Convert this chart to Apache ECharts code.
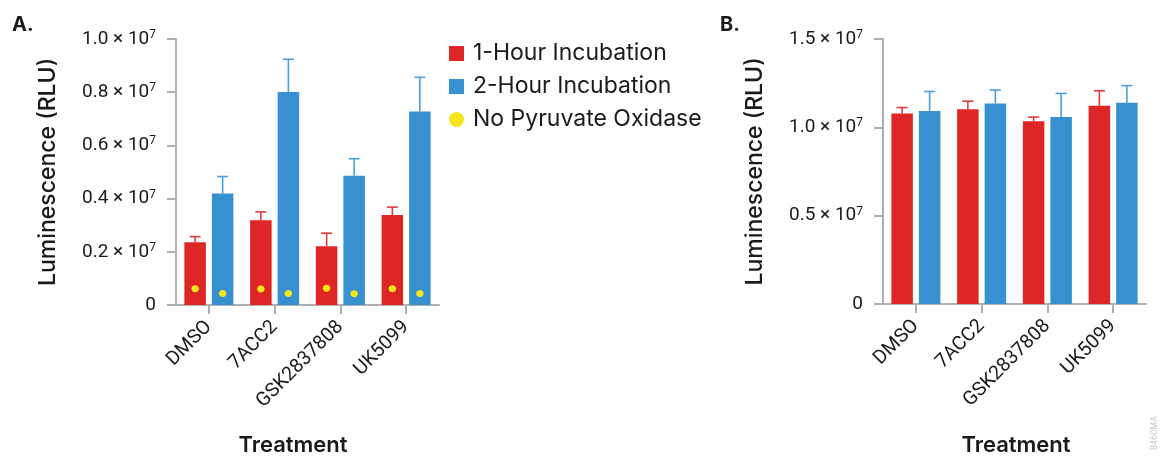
<!DOCTYPE html>
<html>
<head>
<meta charset="utf-8">
<script src="https://cdn.jsdelivr.net/npm/echarts@6/dist/echarts.min.js"></script>
<style>
html,body{margin:0;padding:0;background:#fff;}
#chart{width:1162px;height:456px;}
</style>
</head>
<body>
<div id="chart"></div>
<script>
// ---- Data ----
const categories = ['DMSO', '7ACC2', 'GSK2837808', 'UK5099'];
const seriesNames = ['1-Hour Incubation', '2-Hour Incubation', 'No Pyruvate Oxidase'];
// Panel A
const a1h = [2.36e6, 3.19e6, 2.21e6, 3.38e6];
const a1hErr = [0.21e6, 0.31e6, 0.49e6, 0.30e6];
const a2h = [4.19e6, 8.01e6, 4.86e6, 7.27e6];
const a2hErr = [0.64e6, 1.23e6, 0.64e6, 1.29e6];
const aNoPox1h = [0.61e6, 0.60e6, 0.63e6, 0.61e6];
const aNoPox2h = [0.43e6, 0.43e6, 0.42e6, 0.43e6];
// Panel B
const b1h = [1.078e7, 1.103e7, 1.035e7, 1.122e7];
const b1hErr = [0.034e7, 0.045e7, 0.023e7, 0.085e7];
const b2h = [1.093e7, 1.135e7, 1.059e7, 1.139e7];
const b2hErr = [0.110e7, 0.076e7, 0.133e7, 0.097e7];
// Axis ticks
const aTicks = { min: 0, max: 1.0e7, interval: 0.2e7 };
const bTicks = { min: 0, max: 1.5e7, interval: 0.5e7 };

// ---- Styles ----
const RED = '#DF2627';
const BLUE = '#3790D0';
const RED_ERR = '#E03A3B';
const BLUE_ERR = '#4AA0DE';
const YELLOW = '#F4E61A';
const AXIS = '#B0B0B0';
const TXT = '#1a1a1a';
const FONT = 'Roboto';
const TFONT = 'Inter';
const BAR_W = 0.327;   // fraction of category band
const BAR_GAP = 0.28;  // fraction of bar width
const SIDE_OFF = BAR_W * (1 + BAR_GAP) / 2;

function yLabel(v) {
  if (v === 0) return '{n|0}';
  return '{n|' + (v / 1e7).toFixed(1) + ' \u00d7 10}{s|7}';
}

function yAxisCfg(gridIndex, t) {
  return {
    type: 'value', gridIndex: gridIndex, min: t.min, max: t.max, interval: t.interval,
    name: 'Luminescence (RLU)', nameLocation: 'middle', nameGap: 116,
    nameTextStyle: { fontFamily: TFONT, fontSize: 23, fontWeight: 500, color: TXT },
    axisLine: { show: true, lineStyle: { color: AXIS, width: 2 } },
    axisTick: { show: true, length: 9, lineStyle: { color: AXIS, width: 2 } },
    splitLine: { show: false },
    axisLabel: {
      margin: 20, formatter: yLabel,
      rich: {
        n: { fontFamily: FONT, fontSize: 19, color: TXT, lineHeight: 20 },
        s: { fontFamily: FONT, fontSize: 12, color: TXT, verticalAlign: 'top', lineHeight: 12 }
      }
    }
  };
}
function xAxisCfg(gridIndex) {
  return {
    type: 'category', gridIndex: gridIndex, data: categories,
    axisLine: { show: true, lineStyle: { color: AXIS, width: 2 } },
    axisTick: { show: true, alignWithLabel: true, length: 9, lineStyle: { color: AXIS, width: 2 } },
    axisLabel: { rotate: 45, margin: 19, fontFamily: FONT, fontSize: 19.5, color: TXT, interval: 0 }
  };
}
function barSeries(name, gi, values, color) {
  return {
    name: name, type: 'bar', xAxisIndex: gi, yAxisIndex: gi, data: values,
    barWidth: (BAR_W * 100) + '%', barGap: (BAR_GAP * 100) + '%',
    itemStyle: { color: color }, z: 2, silent: true
  };
}
function errSeries(name, gi, values, errs, side, color) {
  return {
    name: name, type: 'custom', xAxisIndex: gi, yAxisIndex: gi, z: 3, silent: true,
    data: values.map((v, i) => [i, v, errs[i]]),
    renderItem: function (params, api) {
      const i = api.value(0), v = api.value(1), e = api.value(2);
      const band = api.size([1, 0])[0];
      const p0 = api.coord([i, v]);
      const p1 = api.coord([i, v + e]);
      const x = p0[0] + side * band * SIDE_OFF;
      const cap = 5.5;
      return {
        type: 'group',
        children: [
          { type: 'line', shape: { x1: x, y1: p0[1], x2: x, y2: p1[1] }, style: { stroke: color, lineWidth: 1.6 } },
          { type: 'line', shape: { x1: x - cap, y1: p1[1], x2: x + cap, y2: p1[1] }, style: { stroke: color, lineWidth: 1.6 } }
        ]
      };
    }
  };
}
function dotSeries(name, gi, v1, v2) {
  const data = [];
  v1.forEach((v, i) => data.push([i, v, -1]));
  v2.forEach((v, i) => data.push([i, v, 1]));
  return {
    name: name, type: 'custom', xAxisIndex: gi, yAxisIndex: gi, z: 4, silent: true,
    itemStyle: { color: YELLOW },
    data: data,
    renderItem: function (params, api) {
      const i = api.value(0), v = api.value(1), side = api.value(2);
      const band = api.size([1, 0])[0];
      const p = api.coord([i, v]);
      return {
        type: 'ellipse',
        shape: { cx: p[0] + side * band * SIDE_OFF, cy: p[1], rx: 3.8, ry: 3.5 },
        style: { fill: YELLOW }
      };
    }
  };
}

const chart = echarts.init(document.getElementById('chart'), null, { renderer: 'canvas' });
chart.setOption({
  animation: false,
  backgroundColor: '#fff',
  textStyle: { fontFamily: FONT },
  grid: [
    { left: 176, top: 39, width: 263, height: 266, containLabel: false },
    { left: 883, top: 39, width: 263, height: 265, containLabel: false }
  ],
  legend: {
    orient: 'vertical', left: 444, top: 37, itemWidth: 15, itemHeight: 15, itemGap: 10,
    selectedMode: false,
    textStyle: { fontFamily: TFONT, fontSize: 23, color: TXT, lineHeight: 22, padding: [0, 0, 0, 4] },
    data: [
      { name: seriesNames[0], icon: 'rect', itemStyle: { color: RED } },
      { name: seriesNames[1], icon: 'rect', itemStyle: { color: BLUE } },
      { name: seriesNames[2], icon: 'circle', itemStyle: { color: YELLOW } }
    ]
  },
  xAxis: [xAxisCfg(0), xAxisCfg(1)],
  yAxis: [yAxisCfg(0, aTicks), yAxisCfg(1, bTicks)],
  series: [
    barSeries(seriesNames[0], 0, a1h, RED),
    barSeries(seriesNames[1], 0, a2h, BLUE),
    errSeries(seriesNames[0], 0, a1h, a1hErr, -1, RED_ERR),
    errSeries(seriesNames[1], 0, a2h, a2hErr, 1, BLUE_ERR),
    dotSeries(seriesNames[2], 0, aNoPox1h, aNoPox2h),
    barSeries(seriesNames[0], 1, b1h, RED),
    barSeries(seriesNames[1], 1, b2h, BLUE),
    errSeries(seriesNames[0], 1, b1h, b1hErr, -1, RED_ERR),
    errSeries(seriesNames[1], 1, b2h, b2hErr, 1, BLUE_ERR)
  ],
  graphic: [
    { type: 'text', x: 12, y: 15, style: { text: 'A.', font: 'bold 20px ' + TFONT, fill: TXT, verticalAlign: 'top' } },
    { type: 'text', x: 720, y: 15, style: { text: 'B.', font: 'bold 20px ' + TFONT, fill: TXT, verticalAlign: 'top' } },
    { type: 'text', x: 293, y: 445, style: { text: 'Treatment', font: '600 22px ' + TFONT, fill: TXT, align: 'center', verticalAlign: 'middle' } },
    { type: 'text', x: 1016, y: 445, style: { text: 'Treatment', font: '600 22px ' + TFONT, fill: TXT, align: 'center', verticalAlign: 'middle' } },
    { type: 'text', x: 1155, y: 433, rotation: Math.PI / 2, style: { text: '8460MA', font: '9px ' + FONT, fill: '#c8c8c8', align: 'center', verticalAlign: 'middle' } }
  ]
});
</script>
</body>
</html>
